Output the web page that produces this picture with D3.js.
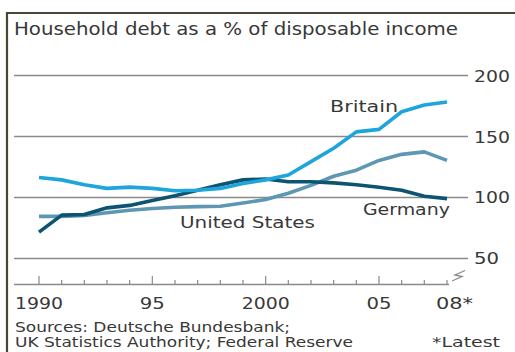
<!DOCTYPE html>
<html><head><meta charset="utf-8">
<script src="https://cdn.jsdelivr.net/npm/d3@7"></script>
<style>html,body{margin:0;padding:0;background:#fff;} svg{display:block;}</style>
</head><body>
<script>
const years = d3.range(1990, 2009);
const britain = [116,114,110,107,108,107,105,105.5,107,111,114,118,129,140,153.5,155.5,170,175.6,178];
const unitedStates = [84,84,84.7,87,89,90.4,91.5,92,92.3,95,97.8,103,109.5,117,122,130,135,137,130];
const germany = [71,85,85.5,91,93,97,101,105.4,110,114,114.7,112.5,112.5,111.5,110,108,105.5,100.5,98.6];
const yTicks = [50,100,150,200];
const xLabels = [[1990,"1990"],[1995,"95"],[2000,"2000"],[2005,"05"],[2008,"08*"]];
const series = [
  {name:"United States", values:unitedStates, color:"#5e97b3"},
  {name:"Germany", values:germany, color:"#0d5472"},
  {name:"Britain", values:britain, color:"#1ea5dc"}
];
const labels = [
  {name:"Britain", year:2002.84, value:169.8, len:68},
  {name:"United States", year:1996.22, value:74.4, len:135},
  {name:"Germany", year:2004.29, value:85.1, len:87}
];

const W=515,H=352;
const svg=d3.select("body").append("svg").attr("width",W).attr("height",H);
const x=d3.scaleLinear().domain([1990,2008]).range([39,447]);
const y=d3.scaleLinear().domain([50,200]).range([257.7,75.3]);
const font="'DejaVu Sans', Verdana, sans-serif";
const txt="#383838";

function T(sel, px, py, s, size, len, anchor){
  const t=sel.append("text").attr("x",px).attr("y",py).attr("font-family",font).attr("font-size",size)
    .attr("fill",txt).attr("text-anchor",anchor||"start").text(s);
  if(len) t.attr("textLength",len).attr("lengthAdjust","spacingAndGlyphs");
  return t;
}

// frame
svg.append("path").attr("d","M7,352 V13 H515").attr("fill","none").attr("stroke","#4a4632").attr("stroke-width",2.2);

T(svg,14,35,"Household debt as a % of disposable income",17,444);

// gridlines
const g=svg.append("g");
g.selectAll("line.grid").data(yTicks).join("line").attr("class","grid")
  .attr("x1",14).attr("x2",468).attr("y1",d=>Math.round(y(d))+0.5).attr("y2",d=>Math.round(y(d))+0.5)
  .attr("stroke","#8a8a8a").attr("stroke-width",1.3);
yTicks.forEach(d=>T(g,474,y(d)+6.5,String(d),16.5,d<100?25:36));

// x axis
const axisY=284;
const xAxis=d3.axisBottom(x).tickValues(years).tickSize(0).tickFormat("");
const ax=svg.append("g").attr("transform",`translate(0,${axisY})`).call(xAxis);
ax.select(".domain").remove();
ax.append("line").attr("x1",14).attr("x2",449).attr("y1",0.5).attr("y2",0.5).attr("stroke","#8a8a8a").attr("stroke-width",1.3);
ax.selectAll("line.tk").data(years).join("line").attr("class","tk")
  .attr("x1",d=>x(d)).attr("x2",d=>x(d)).attr("y1",0).attr("y2",d=>(d%5===0)?-8:-4)
  .attr("stroke","#8a8a8a").attr("stroke-width",1.2);
const xlen={"1990":48,"95":25,"2000":48,"05":25,"08*":37};
xLabels.forEach(([yr,s])=>{
  if(yr===1990) T(svg,15,309,s,16,xlen[s]);
  else if(yr===2008) T(svg,436,309,s,16,xlen[s]);
  else T(svg,x(yr),309,s,16,xlen[s],"middle");
});

// axis break symbol
svg.append("path").attr("d","M452,281 L462,276.5 L455,275 L465,270.5").attr("fill","none").attr("stroke","#8a8a8a").attr("stroke-width",1.3);

// lines
const line=d3.line().x((d,i)=>x(years[i])).y(d=>y(d)).curve(d3.curveLinear);
svg.selectAll("path.s").data(series).join("path").attr("class","s")
  .attr("d",d=>line(d.values)).attr("fill","none").attr("stroke",d=>d.color)
  .attr("stroke-width",3.6).attr("stroke-linejoin","round").attr("stroke-linecap","butt");

labels.forEach(d=>T(svg,x(d.year),y(d.value),d.name,16.5,d.len));

// sources
T(svg,15,332,"Sources: Deutsche Bundesbank;",14,275);
T(svg,15,347,"UK Statistics Authority; Federal Reserve",14,338);
T(svg,432,347,"*Latest",14,68);
</script>
</body></html>
